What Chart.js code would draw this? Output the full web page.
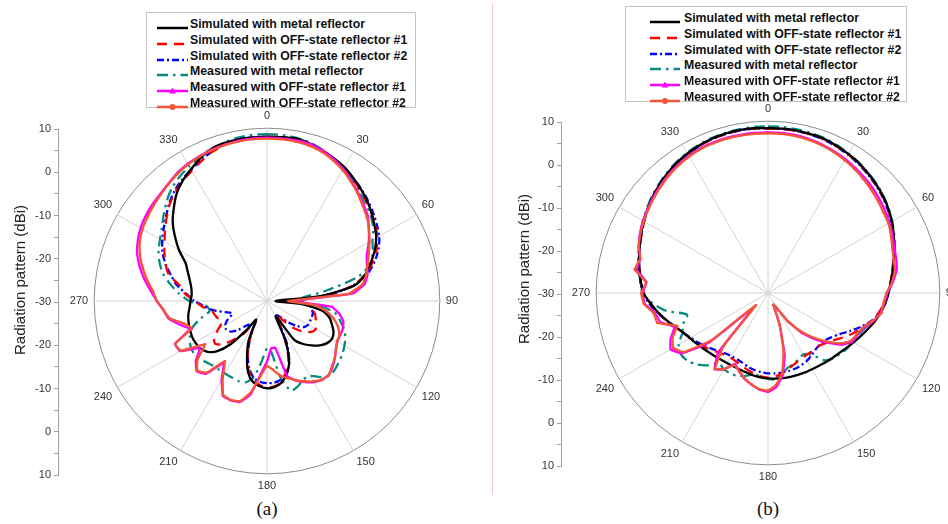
<!DOCTYPE html>
<html><head><meta charset="utf-8">
<script src="https://cdn.jsdelivr.net/npm/chart.js@4"></script>
<style>
html,body{margin:0;padding:0;width:948px;height:524px;overflow:hidden;background:#fff;font-family:"Liberation Sans",Arial,sans-serif;}
canvas{position:absolute;}
.legend{position:absolute;border:1px solid #c4c4c4;background:#fff;box-sizing:border-box;}
.row{position:absolute;height:16px;font-weight:bold;font-size:12.3px;line-height:16px;color:#111;white-space:nowrap;}
.samp{position:absolute;}
.title{position:absolute;width:220px;height:20px;line-height:20px;text-align:center;font-size:15px;color:#222;transform:rotate(-90deg);white-space:nowrap;}
.cap{position:absolute;width:60px;height:22px;line-height:22px;text-align:center;font-family:"Liberation Serif","Times New Roman",serif;font-size:19px;color:#111;}
#divider{position:absolute;left:492px;top:3px;width:1px;height:492px;background:#f5c6c6;}
</style></head>
<body>
<canvas id="axA" width="46" height="366" style="left:18px;top:119px"></canvas>
<canvas id="axB" width="46" height="364" style="left:521px;top:112px"></canvas>
<canvas id="radA" width="400" height="385" style="left:64px;top:109px"></canvas>
<canvas id="radB" width="400" height="383" style="left:565px;top:102px"></canvas>
<div id="divider"></div>
<div class="title" style="left:-90px;top:270px">Radiation pattern (dBi)</div>
<div class="title" style="left:414px;top:259px">Radiation pattern (dBi)</div>
<div class="cap" style="left:237px;top:498px">(a)</div>
<div class="cap" style="left:738px;top:498px">(b)</div>
<div id="legA" class="legend" style="left:146px;top:12px;width:270px;height:96px"></div>
<div id="legB" class="legend" style="left:625px;top:6px;width:282px;height:96px"></div>
<script>
// ---- data ----
const angleLabels = ['0','5','10','15','20','25','30','35','40','45','50','55','60','65','70','75','80','85','90','95','100','105','110','115','120','125','130','135','140','145','150','155','160','165','170','175','180','185','190','195','200','205','210','215','220','225','230','235','240','245','250','255','260','265','270','275','280','285','290','295','300','305','310','315','320','325','330','335','340','345','350','355'];
const seriesNames = ['Simulated with metal reflector','Simulated with OFF-state reflector #1','Simulated with OFF-state reflector #2','Measured with metal reflector','Measured with OFF-state reflector #1','Measured with OFF-state reflector #2'];
const radialMin = -30, radialMax = 10;

// panel (a)
const aSimMetal = [8,8.1,8.2,7.8,7.2,6.5,5.8,4.8,3.8,2.8,1.6,0.4,-0.8,-2.5,-4.5,-6.5,-9.5,-18,-28,-22,-17,-15,-14,-13,-12.6,-13,-14,-15.5,-17,-19,-26,-20,-15,-12.5,-10.8,-10,-9.8,-10.2,-11,-13,-16.5,-20,-25,-22,-17,-13.5,-11.8,-11,-10.8,-10.8,-11,-11.2,-11.5,-12,-12.3,-12.5,-12.2,-11.5,-10.5,-9.2,-6.5,-4,-1.5,0.5,2.5,4,5.2,6.5,7.5,7.9,8,8];
const aSimOff1 = [8,8,8,7.6,7,6.3,5.5,4.6,3.6,2.6,1.6,0.6,-0.5,-2,-4,-6.5,-10,-17,-26,-21,-19.5,-18.5,-18,-17.5,-17,-17.5,-19,-21,-24,-26,-25,-20,-15.5,-13,-11,-10.2,-10,-10.5,-11.5,-13.5,-17,-21,-25,-21,-18.5,-16,-14.5,-15,-17,-18.5,-18,-17.5,-17,-15,-13.3,-11,-9.5,-6.5,-5,-3.8,-2.6,-1.2,0.3,1.8,3,4,4.8,5.8,6.8,7.4,7.8,8];
const aSimOff2 = [8,8,8,7.6,7.1,6.4,5.6,4.8,3.9,3,2,1,0,-1.5,-3.5,-6,-10,-16,-23,-20,-19.5,-19,-19,-19,-19,-19.5,-21,-23,-25,-26,-25,-19,-15,-12.5,-11.5,-11,-11,-11.2,-12,-14,-17,-21,-24,-23.5,-22.5,-20.5,-19,-18.5,-18.8,-20,-21.5,-20,-17.5,-15.5,-13.2,-11.3,-8.8,-7,-5,-3.3,-2,-0.8,0.5,2,3.3,4.3,5.1,6,6.9,7.5,7.9,8];
const aMeasMetal = [8.6,8.6,8.4,8,7.3,6.3,5.3,4.3,3.2,2.2,1.2,0,-1.8,-3,-4.5,-8,-16,-22,-24,-18,-14,-12.5,-11,-10,-9.3,-8.7,-8.2,-7.7,-7.4,-8.5,-10,-10,-9,-8.5,-12,-18,-19,-16,-12,-10.5,-10.3,-10.5,-10.6,-10.6,-10.5,-10,-9.5,-9.2,-9.5,-10.3,-11.5,-14,-16.5,-16,-12,-9.5,-7.2,-5,-3.5,-2.3,-1.4,-0.3,1.2,2.8,4.2,5.2,6,6.9,7.5,8,8.4,8.6];
const aMeasOff1 = [7.8,7.8,7.8,7.7,7.2,6.3,5.3,4,2.8,1.6,0.5,-1.2,-2.8,-4.5,-5.4,-5.9,-7,-10,-24,-15,-13,-11.7,-11.3,-11.3,-11.2,-10.5,-9.5,-8.5,-7.7,-7.7,-8.3,-9.3,-10.4,-12,-19,-19,-16,-13,-8,-5.8,-5.5,-5.8,-9,-12.5,-8,-7,-8.5,-11,-6.8,-6.5,-11,-9,-6.8,-5.9,-4.5,-3,-1.2,0.5,2,3,3.8,4.3,4.7,5,5.5,6.2,6.7,7,7.3,7.5,7.7,7.8];
const aMeasOff2 = [7.6,7.6,7.5,7.3,6.8,6,5,3.8,2.6,1.3,0.2,-1.2,-2.6,-4,-5.2,-6.2,-7.5,-11,-25,-18.5,-16,-14,-12.5,-11.5,-11.3,-10.5,-9.5,-8.7,-7.7,-7.8,-8.5,-9.5,-10.5,-11.5,-12.5,-14,-15,-12.5,-8.5,-6,-5.6,-6,-9.5,-13,-8.3,-7.2,-9,-12.5,-7,-6.5,-11.5,-10,-7,-6,-4.5,-3.5,-1.8,-0.2,1.3,2.5,3.3,3.8,4.3,4.8,5.4,6,6.5,6.9,7.2,7.4,7.5,7.6];

// panel (b)
const bSimMetal = [8.4,8.4,8.4,8.3,8.2,7.8,7.4,6.9,6.3,5.7,5,4.2,3.3,2.3,1.3,0.4,-0.5,-1.3,-2,-2.6,-3.4,-4.3,-5.3,-6.2,-7,-7.7,-8.3,-8.7,-9,-9.3,-9.5,-9.6,-9.7,-9.8,-9.9,-10,-10.1,-10.3,-10.5,-10.8,-11,-11.1,-11.1,-11,-10.8,-10.5,-10.1,-9.6,-9,-8.2,-7,-5.5,-4,-2.5,-1,-0.3,0.4,1.1,1.8,2.6,3.4,4.2,5,5.7,6.4,7,7.5,7.9,8.2,8.4,8.5,8.5];
const bSimOff1 = [8.3,8.3,8.3,8.2,8.1,7.7,7.3,6.8,6.2,5.6,4.9,4.1,3.2,2.2,1.2,0.3,-0.6,-1.4,-2.1,-2.8,-3.8,-5,-6.5,-8,-9.5,-11,-12,-12.8,-13,-13,-13,-12.8,-12.3,-11.7,-11,-10.5,-10.3,-10.5,-11,-11.5,-12,-12.4,-12.6,-12.4,-12,-11.3,-10.5,-9.7,-9,-8.2,-7,-5.5,-4,-2.5,-1.1,-0.4,0.3,1,1.7,2.5,3.3,4.1,4.9,5.6,6.3,6.9,7.4,7.8,8.1,8.3,8.4,8.4];
const bSimOff2 = [8.3,8.3,8.3,8.2,8,7.6,7.2,6.7,6.1,5.5,4.8,4,3.1,2.1,1.1,0.2,-0.6,-1.3,-2,-2.6,-3.5,-5,-7,-9,-10.8,-12,-12.8,-13,-12.8,-12.3,-11.8,-11.5,-11.3,-11.2,-11.2,-11.2,-11.3,-11.5,-11.8,-12.2,-12.7,-13,-13,-12.8,-12.3,-11.6,-10.8,-10,-9.2,-8.2,-7,-5.5,-3.8,-2.2,-0.9,-0.2,0.4,1.1,1.8,2.5,3.3,4.1,4.9,5.6,6.3,6.9,7.4,7.8,8.1,8.3,8.4,8.4];
const bMeasMetal = [8.8,8.8,8.7,8.6,8.4,8,7.5,7,6.4,5.8,5.1,4.3,3.4,2.4,1.4,0.5,-0.4,-1.2,-1.9,-2.5,-3.5,-4.8,-6,-6.8,-7.3,-7.5,-8,-8.5,-9.5,-12.5,-13.5,-13,-12.5,-12,-11,-9.8,-10,-10.5,-10.8,-10,-9.5,-9.3,-9.5,-10,-8,-6.5,-5.5,-5.2,-6,-8,-9,-10.5,-6,-3,-0.8,-0.1,0.6,1.3,2,2.8,3.6,4.4,5.2,5.9,6.6,7.2,7.7,8.1,8.4,8.6,8.7,8.8];
const bMeasOff1 = [7.4,7.4,7.3,7.1,6.8,6.4,6,5.5,5,4.5,3.9,3.3,2.7,2,1.3,0.9,0.4,-0.8,-2.2,-2.8,-3.4,-4.6,-6.2,-7,-7.3,-9,-12,-15,-18,-22,-26,-27,-22,-15,-10.5,-8,-7,-7.4,-8.3,-9.2,-10.5,-11.8,-9.5,-8.3,-12,-25,-12,-5.5,-3.8,-5,-6.8,-4,-3.3,-1.2,-0.8,-1.6,1,0.8,2,2.9,3.6,4.2,4.8,5.4,6,6.5,6.9,7.2,7.3,7.4,7.4,7.4];
const bMeasOff2 = [7.2,7.2,7.1,6.9,6.6,6.2,5.7,5.2,4.6,4,3.4,2.8,2.4,1.6,0.8,0.3,0,-1,-2.4,-3,-3.2,-4.8,-6.5,-7.2,-7.7,-9.5,-12.5,-15.5,-18.5,-22,-26,-27,-22,-16,-11,-8.5,-7.3,-7.5,-8.3,-9.3,-10.5,-11.5,-9.5,-8.5,-14,-26,-13,-6,-4.5,-5.5,-7.5,-3.3,-3,-1,-0.5,-1.5,1.5,0.8,2,2.8,3.4,4,4.6,5.2,5.8,6.3,6.7,7,7.1,7.2,7.2,7.2];

// ---- styles ----
const styles = [
  {color:'#000000', dash:[], tension:0.25, order:2},
  {color:'#ff0000', dash:[10,7], tension:0.25, order:3},
  {color:'#0000ff', dash:[7,3,2,3], tension:0.25, order:4},
  {color:'#0a8a80', dash:[11,5,2.5,5], tension:0.25, order:5},
  {color:'#ff00ff', dash:[], tension:0.1, order:1, marker:'triangle'},
  {color:'#f2553a', dash:[], tension:0.1, order:0, marker:'circle'}
];
Chart.defaults.font.family = "'Liberation Sans', Arial, sans-serif";

function makeRadar(id, seriesList) {
  new Chart(document.getElementById(id), {
    type: 'radar',
    data: {
      labels: angleLabels,
      datasets: seriesList.map((d, i) => ({
        label: seriesNames[i], data: d,
        borderColor: styles[i].color, backgroundColor: styles[i].color,
        borderDash: styles[i].dash, borderWidth: 2.3, fill: false,
        tension: styles[i].tension, order: styles[i].order,
        pointRadius: styles[i].marker ? 1.3 : 0,
        pointStyle: styles[i].marker || 'circle',
        pointBorderWidth: 0, pointBackgroundColor: styles[i].color
      }))
    },
    options: {
      responsive: false, animation: false, devicePixelRatio: 1,
      layout: {padding: 0},
      plugins: {legend: {display: false}, tooltip: {enabled: false}},
      scales: {
        r: {
          min: radialMin, max: radialMax, startAngle: 0,
          ticks: {display: false, stepSize: 10},
          grid: {circular: true, lineWidth: 1,
            color: c => (c.tick && c.tick.value === radialMax) ? '#8c8c8c' : 'rgba(0,0,0,0)'},
          angleLines: {display: true, lineWidth: 1,
            color: c => (c.index % 6 === 0) ? '#d2d2d2' : 'rgba(0,0,0,0)'},
          pointLabels: {display: true, padding: 6, color: '#333',
            font: {size: 11},
            callback: (l, i) => (i % 6 === 0 ? l : '')}
        }
      }
    }
  });
}

function makeAxis(id) {
  new Chart(document.getElementById(id), {
    type: 'line',
    data: {labels: [], datasets: []},
    options: {
      responsive: false, animation: false, devicePixelRatio: 1,
      layout: {padding: {top: 10, bottom: 10, left: 0, right: 0}},
      plugins: {legend: {display: false}, tooltip: {enabled: false}},
      scales: {
        x: {display: false},
        y: {
          min: -40, max: 40,
          afterFit: s => { s.width = 40; },
          ticks: {stepSize: 5, autoSkip: false, padding: 3, color: '#333', font: {size: 11},
            callback: v => (v % 10 === 0 ? String(Math.abs(v) + radialMin) : '')},
          grid: {drawOnChartArea: false, drawTicks: true, tickLength: 4, color: '#a0a0a0'},
          border: {display: true, color: '#a0a0a0'}
        }
      }
    }
  });
}

makeAxis('axA');
makeAxis('axB');
makeRadar('radA', [aSimMetal, aSimOff1, aSimOff2, aMeasMetal, aMeasOff1, aMeasOff2]);
makeRadar('radB', [bSimMetal, bSimOff1, bSimOff2, bMeasMetal, bMeasOff1, bMeasOff2]);

// ---- legends ----
function sampleSvg(st, w) {
  const dash = st.dash.length ? ` stroke-dasharray="${st.dash.join(',')}"` : '';
  let m = '';
  const cx = w / 2;
  if (st.marker === 'triangle') m = `<polygon points="${cx-3.5},7.5 ${cx+3.5},7.5 ${cx},1.5" fill="${st.color}"/>`;
  if (st.marker === 'circle') m = `<circle cx="${cx}" cy="5" r="3" fill="${st.color}"/>`;
  return `<svg width="${w}" height="10"><line x1="0" y1="5" x2="${w}" y2="5" stroke="${st.color}" stroke-width="2.5"${dash}/>${m}</svg>`;
}
function makeLegend(id, sampleLeft, sampleW, textLeft) {
  const box = document.getElementById(id);
  let html = '';
  seriesNames.forEach((n, i) => {
    const cy = 12 + i * 15.8;
    html += `<div class="samp" style="left:${sampleLeft}px;top:${cy-5-1}px">${sampleSvg(styles[i], sampleW)}</div>`;
    html += `<div class="row" style="left:${textLeft}px;top:${cy-8-1}px">${n}</div>`;
  });
  box.innerHTML = html;
}
makeLegend('legA', 10, 31, 43);
makeLegend('legB', 24, 30, 58);
</script>
</body></html>
